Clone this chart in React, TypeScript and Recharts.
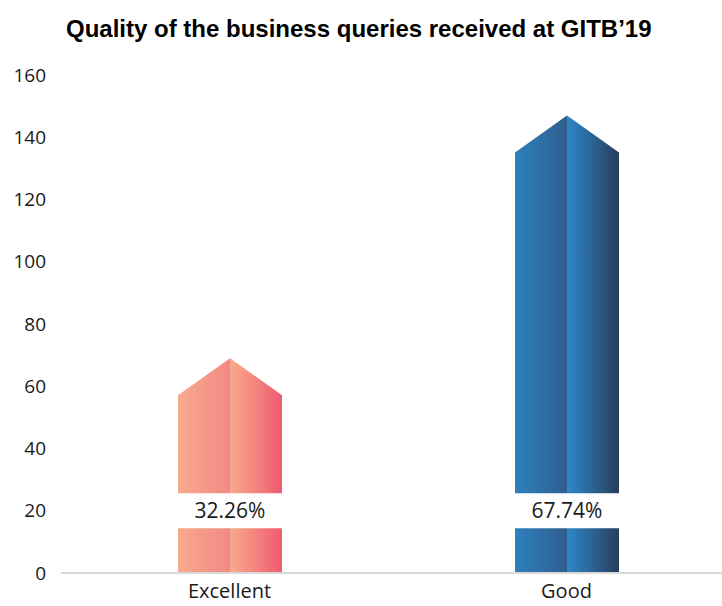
import { BarChart, Bar, XAxis, YAxis, LabelList } from 'recharts';

const categories = ['Excellent', 'Good'];
const values = [69, 147];
const shares = ['32.26%', '67.74%'];
const yTicks = [0, 20, 40, 60, 80, 100, 120, 140, 160];

// gradient stops per category: [left half from, to], [right half from, to]
const palettes = [
  { left: ['#F8A98D', '#F28984'], right: ['#F7AB8C', '#EF5A70'] },
  { left: ['#2E80BF', '#2F5E8D'], right: ['#2F87C7', '#273E5D'] },
];

const data = categories.map((name, i) => ({ name, value: values[i], share: shares[i] }));

const HEAD = 37;
const LABEL_AT = 20;

const ArrowBar = (props: any) => {
  const { x, y, width, height, index } = props;
  const bottom = y + height;
  const mid = x + width / 2;
  const left = `${x},${bottom} ${x},${y + HEAD} ${mid},${y} ${mid},${bottom}`;
  const right = `${mid},${bottom} ${mid},${y} ${x + width},${y + HEAD} ${x + width},${bottom}`;
  return (
    <g>
      <polygon points={left} fill={`url(#gl${index})`} />
      <polygon points={right} fill={`url(#gr${index})`} />
    </g>
  );
};

const ShareLabel = (props: any) => {
  const { x, y, width, height, value, index } = props;
  const bar = data[index];
  const perUnit = height / bar.value;
  const cy = y + height - LABEL_AT * perUnit;
  return (
    <g>
      <rect x={x - 2} y={cy - 17.5} width={width + 4} height={35} fill="#fff" />
      <text
        x={x + width / 2}
        y={cy}
        dy="0.36em"
        textAnchor="middle"
        fontSize={21}
        fill="#1a1a1a"
        fontFamily="'Open Sans', sans-serif"
      >
        {value}
      </text>
    </g>
  );
};

export default function App() {
  return (
    <div
      style={{
        position: 'fixed',
        left: 0,
        top: 0,
        width: 722,
        height: 606,
        overflow: 'hidden',
        background: '#fff',
        fontFamily: "'Open Sans', sans-serif",
      }}
    >
      <div
        style={{
          position: 'absolute',
          left: 66,
          top: 15,
          fontFamily: "'Liberation Sans Narrow', sans-serif",
          fontWeight: 700,
          fontSize: 24,
          color: '#000',
          whiteSpace: 'nowrap',
        }}
      >
        Quality of the business queries received at GITB’19
      </div>
      <BarChart
        width={740}
        height={606}
        data={data}
        margin={{ top: 75, right: 5, bottom: 0, left: 0 }}
        barSize={104}
      >
        <defs>
          {palettes.map((p, i) => (
            <linearGradient key={`gl${i}`} id={`gl${i}`} x1="0" y1="0" x2="1" y2="0">
              <stop offset="0%" stopColor={p.left[0]} />
              <stop offset="100%" stopColor={p.left[1]} />
            </linearGradient>
          ))}
          {palettes.map((p, i) => (
            <linearGradient key={`gr${i}`} id={`gr${i}`} x1="0" y1="0" x2="1" y2="0">
              <stop offset="0%" stopColor={p.right[0]} />
              <stop offset="100%" stopColor={p.right[1]} />
            </linearGradient>
          ))}
        </defs>
        <XAxis
          dataKey="name"
          height={33}
          tickLine={false}
          axisLine={{ stroke: '#d9d9d9', strokeWidth: 2 }}
          tick={{ fontSize: 20, fill: '#1a1a1a' }}
          tickMargin={5}
        />
        <YAxis
          width={61}
          domain={[0, 160]}
          ticks={yTicks}
          axisLine={false}
          tickLine={false}
          tickMargin={9}
          tick={{ fontSize: 19, fill: '#1a1a1a' }}
          interval={0}
        />
        <Bar dataKey="value" shape={ArrowBar} isAnimationActive={false}>
          <LabelList dataKey="share" content={ShareLabel} />
        </Bar>
      </BarChart>
    </div>
  );
}
